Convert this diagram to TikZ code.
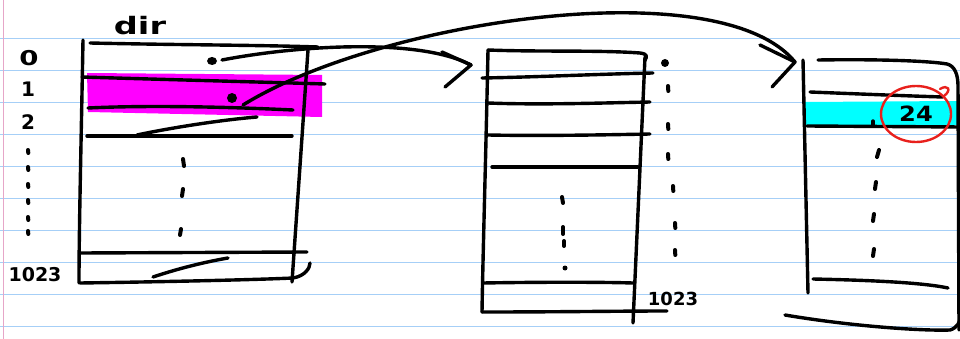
\documentclass[tikz,border=0pt]{standalone}
\usepackage{fontspec}
\setmainfont{DejaVu Sans}
\definecolor{ruleblue}{HTML}{A6CFF7}
\definecolor{marginpink}{HTML}{E6A6C8}
\definecolor{hlmag}{HTML}{FF00FF}
\definecolor{hlcyan}{HTML}{00FFFF}
\definecolor{inkred}{HTML}{E8201C}
\begin{document}
\begin{tikzpicture}[x=1pt,y=-1pt,
  pen/.style={line width=3.4pt, line cap=round, line join=round, black},
  dashmark/.style={line width=4pt, line cap=round, black},
  ruled/.style={ruleblue, line width=1.2pt},
  hand/.style={font=\fontsize{20}{20}\selectfont\bfseries, inner sep=0pt},
  chev/.style={pen}]
\useasboundingbox (0,0) rectangle (960,339);
\fill[white] (0,0) rectangle (960,339);
% notebook paper
\foreach \k in {0,...,9} \draw[ruled] (0,{38.5+32*\k}) -- (960,{38.5+32*\k});
\draw[marginpink, line width=1pt] (3,0) -- (3,339);

% highlights
\fill[hlmag] (87,73) -- (322,75) -- (322,117) -- (88,112) -- cycle;
\fill[hlcyan] (805,102) -- (958,101) -- (958,125) -- (805,125) -- cycle;

% ---------- left box (dir) ----------
\node[hand, font=\fontsize{24}{24}\selectfont\bfseries] (dirlabel) at (140,26) {\scalebox{1.4}[1]{dir}};
\node[hand, font=\fontsize{24}{24}\selectfont\bfseries] (l0) at (29,58) {\scalebox{1.15}[0.85]{0}};
\node[hand] (l1) at (28,89) {1};
\node[hand] (l2) at (28,122) {2};
\node[hand, font=\fontsize{19}{19}\selectfont\bfseries] (l1023) at (35,275) {1023};
\foreach \yy in {150,167,184,200,217,231} \draw[dashmark] (28,\yy) -- (28.3,{\yy+3});

\draw[pen] (83,40) .. controls (81,150) and (79,230) .. (79,283);
\draw[pen] (90,43) .. controls (180,45) and (260,45) .. (318,47);
\draw[pen] (308,50) -- (292,282);
\draw[pen] (82,77) .. controls (180,80) and (260,82) .. (325,84);
\draw[pen] (88,108) .. controls (150,105) and (230,107) .. (293,110);
\draw[pen] (137,135) .. controls (170,128) and (220,120) .. (257,117);
\draw[pen] (87,136) -- (292,136);
\draw[pen] (80,253) -- (307,252);
\draw[pen] (153,277) .. controls (180,268) and (205,262) .. (228,258);
\draw[pen] (80,283) .. controls (150,282) and (250,280) .. (293,278) .. controls (305,276) and (310,268) .. (310,263);
\draw[dashmark] (183,159) -- (184,166);
\draw[dashmark] (183,189) -- (182,196);
\draw[dashmark] (181,229) -- (180,235);

\fill (212,61) ellipse (5 and 4);
\fill (232,98) circle (5);
\coordinate (d0) at (222,60);
\coordinate (d1) at (243,105);

% ---------- middle box ----------
\draw[pen] (488,50) .. controls (540,52) and (600,50) .. (640,53) .. controls (648,54) and (647,57) .. (645,60);
\draw[pen] (488,50) .. controls (486,150) and (483,250) .. (482,312);
\draw[pen] (645,57) -- (633,323);
\draw[pen] (482,78) .. controls (540,77) and (600,74) .. (653,73);
\draw[pen] (488,103) .. controls (540,105) and (600,103) .. (650,102);
\draw[pen] (488,135) .. controls (540,136) and (600,135) .. (650,134);
\draw[pen] (492,167) -- (638,167);
\draw[pen] (483,283) .. controls (540,282) and (600,282) .. (633,283);
\draw[pen] (482,312) .. controls (560,312) and (620,311) .. (667,311);
\fill (665,63) circle (4);
\foreach \yy/\xx in {86/668,124/668,154/668,186/673,223/675,250/675} \draw[dashmark] (\xx,\yy) -- ({\xx+0.3},{\yy+5});
\draw[dashmark] (562,197) -- (563,203);
\draw[dashmark] (563,227) -- (563,234);
\draw[dashmark] (564,241) -- (564,246);
\fill (565,268) circle (2.5);
\node[hand, font=\fontsize{18}{18}\selectfont\bfseries] (m1023) at (673,299) {1023};
\coordinate (t1) at (471,65);

% ---------- right box ----------
\draw[pen] (803,60) -- (808,293);
\draw[pen] (818,60) .. controls (880,59) and (930,61) .. (947,64) .. controls (955,66) and (958,75) .. (958,86) -- (959,330);
\draw[pen] (810,92) .. controls (860,94) and (910,96) .. (943,97);
\draw[pen] (807,126) -- (962,127);
\draw[pen] (873,121) -- (873,126);
\draw[pen] (813,279) .. controls (860,280) and (920,282) .. (948,288);
\draw[pen] (785,315) .. controls (850,326) and (920,331) .. (950,330) .. controls (957,328) and (960,322) .. (960,318);
\draw[dashmark] (879,150) -- (877,157);
\draw[dashmark] (876,182) -- (875,189);
\draw[dashmark] (874,214) -- (873,221);
\draw[dashmark] (874,249) -- (873,256);
\node[hand, font=\fontsize{21}{21}\selectfont\bfseries] (val) at (916,114) {\scalebox{1.15}[1]{24}};
\draw[inkred, line width=2.4pt] (val) ellipse (35 and 28);
\draw[inkred, line width=2.4pt, line cap=round] (940,89) .. controls (948,84) and (952,90) .. (944,96);
\coordinate (t2) at (795,62);

% ---------- pointers ----------
\draw[pen] (d0) .. controls (300,45) and (420,38) .. (t1);
\draw[chev] (442,52) -- (t1) -- (445,87);
\draw[pen] (d1) .. controls (380,20) and (720,-30) .. (t2);
\draw[chev] (760,45) -- (t2) -- (772,87);
\end{tikzpicture}
\end{document}
